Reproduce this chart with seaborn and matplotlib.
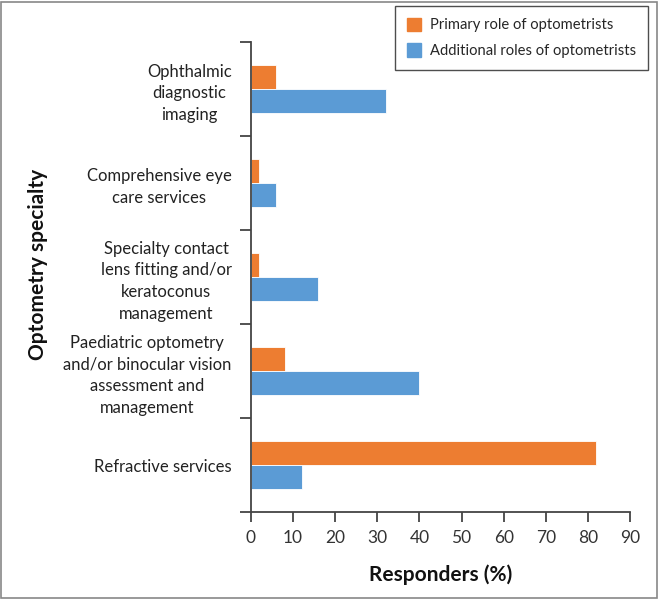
import matplotlib
matplotlib.use("Agg")
import matplotlib.pyplot as plt
import seaborn as sns
import pandas as pd
from matplotlib.patches import Rectangle

categories = [
    "Ophthalmic\ndiagnostic\nimaging",
    "Comprehensive eye\ncare services",
    "Specialty contact\nlens fitting and/or\nkeratoconus\nmanagement",
    "Paediatric optometry\nand/or binocular vision\nassessment and\nmanagement",
    "Refractive services",
]
primary = [6, 2, 2, 8, 82]
additional = [32, 6, 16, 40, 12]
series = ["Primary role of optometrists", "Additional roles of optometrists"]
xticks = [0, 10, 20, 30, 40, 50, 60, 70, 80, 90]

df = pd.DataFrame({
    "cat": categories * 2,
    "val": primary + additional,
    "role": [series[0]] * 5 + [series[1]] * 5,
})

sns.set_theme(style="white")
plt.rcParams["font.family"] = ["Lato", "DejaVu Sans"]

fig = plt.figure(figsize=(6.6, 5.99), dpi=100)
ax = fig.add_axes([251 / 660, 1 - 512 / 599, (630 - 251) / 660, (512 - 42) / 599])

sns.barplot(data=df, y="cat", x="val", hue="role", orient="h",
            palette=["#ED7D31", "#5B9BD5"], saturation=1, width=0.52, ax=ax,
            order=categories, hue_order=series, legend=False,
            edgecolor="white", linewidth=0.6)

ax.set_xlim(0, 90)
ax.set_ylim(4.5, -0.5)
ax.set_xticks(xticks)
ax.set_xticklabels([str(t) for t in xticks], fontsize=12.5, color="#333333")
ax.set_yticks(range(len(categories)))
ax.set_yticklabels(categories, fontsize=12, color="#222222", multialignment="center",
                   linespacing=1.45)
ax.set_yticks([i - 0.5 for i in range(len(categories) + 1)], minor=True)
ax.tick_params(axis="y", which="major", left=False, length=0, pad=14)
ax.tick_params(axis="y", which="minor", left=True, length=8, width=1.3, color="#444444",
               direction="out")
ax.tick_params(axis="x", which="major", bottom=True, length=7, width=1.3, color="#444444",
               direction="out", pad=6)

for s in ["top", "right"]:
    ax.spines[s].set_visible(False)
for s in ["left", "bottom"]:
    ax.spines[s].set_color("#444444")
    ax.spines[s].set_linewidth(1.3)

ax.set_xlabel("")
ax.set_ylabel("")
fig.text(441 / 660, 1 - 575 / 599, "Responders (%)", fontsize=15, fontweight="bold",
         ha="center", va="center", color="#111111")
fig.text(38 / 660, 1 - 264 / 599, "Optometry specialty", fontsize=15, fontweight="bold",
         ha="center", va="center", rotation=90, color="#111111")

handles = [Rectangle((0, 0), 1, 1, color="#ED7D31"), Rectangle((0, 0), 1, 1, color="#5B9BD5")]
leg = fig.legend(handles, series, loc="upper right", bbox_to_anchor=(648 / 660, 1 - 6 / 599),
                 frameon=True, fontsize=10.6, handlelength=1.0, handleheight=1.0,
                 borderpad=0.8, labelspacing=0.75, handletextpad=0.6, fancybox=False,
                 borderaxespad=0)
leg.get_frame().set_edgecolor("#222222")
leg.get_frame().set_linewidth(1.0)

fig.patches.append(Rectangle((0.002, 0.002), 0.994, 0.994, transform=fig.transFigure,
                             fill=False, edgecolor="#888888", linewidth=1.2))

fig.savefig("out.png", dpi=100)
